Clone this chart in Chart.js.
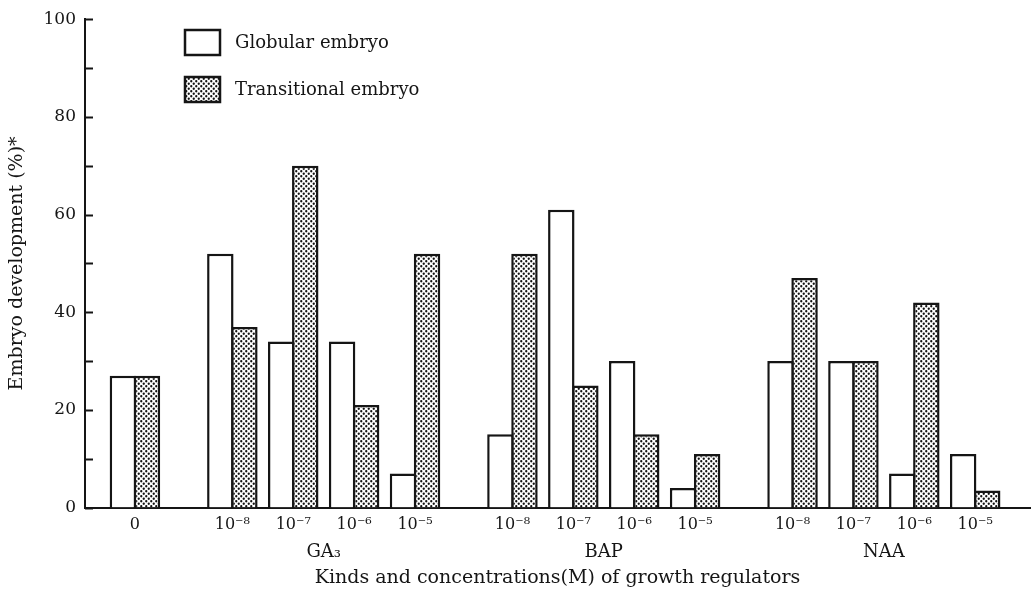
<!DOCTYPE html>
<html>
<head>
<meta charset="utf-8">
<script src="https://cdn.jsdelivr.net/npm/chart.js@4.4.1/dist/chart.umd.min.js"></script>
<style>
  html, body { margin: 0; padding: 0; background: #ffffff; }
  #wrap { width: 1033px; height: 593px; position: relative; }
</style>
</head>
<body>
<div id="wrap"><canvas id="c" width="1033" height="593"></canvas></div>
<script>
// ---- data ----
const categories = ['0', '10⁻⁸', '10⁻⁷', '10⁻⁶', '10⁻⁵', '10⁻⁸', '10⁻⁷', '10⁻⁶', '10⁻⁵', '10⁻⁸', '10⁻⁷', '10⁻⁶', '10⁻⁵'];
const groupNames = ['', 'GA₃', 'BAP', 'NAA'];
const groupOf = [0, 1, 1, 1, 1, 2, 2, 2, 2, 3, 3, 3, 3];
const globular = [27, 52, 34, 34, 7, 15, 61, 30, 4, 30, 30, 7, 11];
const transitional = [27, 37, 70, 21, 52, 52, 25, 15, 11, 47, 30, 42, 3.5];
const seriesNames = ['Globular embryo', 'Transitional embryo'];
const yTickValues = [0, 10, 20, 30, 40, 50, 60, 70, 80, 90, 100];
const yTickLabels = ['0', '', '20', '', '40', '', '60', '', '80', '', '100'];
const xTitle = 'Kinds and concentrations(M) of growth regulators';
const yTitle = 'Embryo development (%)*';

// ---- layout helpers ----
const GROUP_GAP = 0.6;
const xPos = categories.map((_, i) => i + groupOf[i] * GROUP_GAP);
const groupCenters = [1, 2, 3].map(g => {
  const p = xPos.filter((_, i) => groupOf[i] === g);
  return (p[0] + p[p.length - 1]) / 2;
});
const X_MIN = -0.82, X_MAX = 14.7;
const FONT = "'DejaVu Serif', 'Liberation Serif', serif";
const INK = '#151515';

function makePattern() {
  const t = document.createElement('canvas');
  t.width = 5; t.height = 5;
  const g = t.getContext('2d');
  g.fillStyle = '#ffffff';
  g.fillRect(0, 0, 5, 5);
  g.fillStyle = '#111111';
  [[1.25, 1.25], [3.75, 3.75]].forEach(([x, y]) => {
    g.beginPath(); g.arc(x, y, 1.15, 0, Math.PI * 2); g.fill();
  });
  return document.getElementById('c').getContext('2d').createPattern(t, 'repeat');
}
const dots = makePattern();

const insideTicks = {
  id: 'insideTicks',
  afterDatasetsDraw(chart) {
    const y = chart.scales.y, ctx = chart.ctx, left = chart.chartArea.left;
    ctx.save();
    ctx.strokeStyle = INK; ctx.lineWidth = 2;
    yTickValues.forEach(v => {
      const py = Math.round(y.getPixelForValue(v)) + 0.5;
      ctx.beginPath(); ctx.moveTo(left, py); ctx.lineTo(left + 8, py); ctx.stroke();
    });
    ctx.restore();
  }
};

const customLegend = {
  id: 'customLegend',
  afterDraw(chart) {
    const ctx = chart.ctx;
    ctx.save();
    const items = [
      { fill: '#ffffff', y: 30 },
      { fill: dots, y: 77 }
    ];
    items.forEach((it, i) => {
      ctx.fillStyle = it.fill;
      ctx.fillRect(185, it.y, 35, 25);
      ctx.strokeStyle = INK; ctx.lineWidth = 2.5;
      ctx.strokeRect(185, it.y, 35, 25);
      ctx.fillStyle = INK;
      ctx.font = "18px " + FONT;
      ctx.textBaseline = 'middle';
      ctx.fillText(seriesNames[i], 235, it.y + 13);
    });
    ctx.restore();
  }
};

new Chart(document.getElementById('c'), {
  type: 'bar',
  data: {
    datasets: [
      {
        label: seriesNames[0],
        data: xPos.map((x, i) => ({ x, y: globular[i] })),
        backgroundColor: '#ffffff',
        borderColor: INK,
        borderWidth: 2.5,
        xAxisID: 'x'
      },
      {
        label: seriesNames[1],
        data: xPos.map((x, i) => ({ x, y: transitional[i] })),
        backgroundColor: dots,
        borderColor: INK,
        borderWidth: 2.5,
        xAxisID: 'x'
      }
    ]
  },
  plugins: [insideTicks, customLegend],
  options: {
    responsive: false,
    animation: false,
    categoryPercentage: 0.79,
    barPercentage: 1.1,
    layout: { padding: { top: 18, right: 3, left: 0, bottom: 4 } },
    plugins: { legend: { display: false }, tooltip: { enabled: false } },
    scales: {
      x: {
        type: 'linear', position: 'bottom', min: X_MIN, max: X_MAX, offset: false,
        afterBuildTicks: s => { s.ticks = xPos.map(v => ({ value: v })); },
        afterFit: s => { s.height = 34; },
        grid: { display: false, drawTicks: false },
        border: { display: true, color: INK, width: 2 },
        ticks: {
          autoSkip: false, maxRotation: 0, padding: 8,
          color: INK, font: { family: FONT, size: 16 },
          callback: (v, i) => categories[i]
        }
      },
      xg: {
        type: 'linear', position: 'bottom', min: X_MIN, max: X_MAX, offset: false,
        afterBuildTicks: s => { s.ticks = groupCenters.map(v => ({ value: v })); },
        grid: { display: false, drawTicks: false },
        border: { display: false },
        ticks: {
          autoSkip: false, maxRotation: 0, padding: 0,
          color: INK, font: { family: FONT, size: 18 },
          callback: (v, i) => groupNames[i + 1]
        },
        title: { display: true, text: xTitle, color: INK, font: { family: FONT, size: 19 }, padding: { top: 3, bottom: 0 } }
      },
      y: {
        min: 0, max: 100,
        afterBuildTicks: s => { s.ticks = yTickValues.map(v => ({ value: v })); },
        afterFit: s => { s.width = 85; },
        grid: { display: false, drawTicks: false },
        border: { display: true, color: INK, width: 2 },
        ticks: {
          autoSkip: false, padding: 9, color: INK, font: { family: FONT, size: 17 },
          callback: (v, i) => yTickLabels[i]
        },
        title: { display: true, text: yTitle, color: INK, font: { family: FONT, size: 19 }, padding: { top: 6, bottom: 4 } }
      }
    }
  }
});
</script>
</body>
</html>
